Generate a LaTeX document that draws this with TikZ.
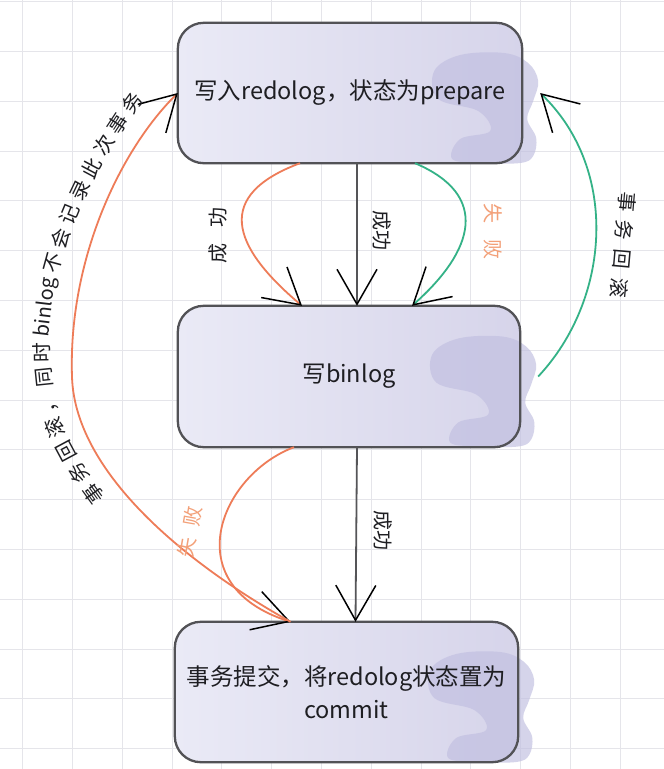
\documentclass[tikz,border=0pt]{standalone}
\usepackage{fontspec}
\setmainfont{Noto Sans CJK SC}
\usetikzlibrary{arrows.meta,decorations.text,calc}
\definecolor{gridc}{RGB}{229,229,234}
\definecolor{boxl}{RGB}{234,234,246}
\definecolor{boxr}{RGB}{214,212,234}
\definecolor{blobc}{RGB}{192,190,224}
\definecolor{borderc}{RGB}{82,82,86}
\definecolor{linec}{RGB}{85,85,88}
\definecolor{orangec}{RGB}{238,124,88}
\definecolor{greenc}{RGB}{52,178,135}
\definecolor{lorange}{RGB}{243,160,120}
\definecolor{txt}{RGB}{30,30,34}
\pgfdeclarelayer{bg}
\pgfdeclarelayer{boxes}
\pgfsetlayers{bg,boxes,main}
\tikzset{
  gridline/.style={draw=gridc, line width=1pt},
  boxtext/.style={rectangle, inner sep=0pt, text=txt, align=center,
    font=\fontsize{23.5}{33}\selectfont},
  boxfill/.style={rounded corners=26pt, left color=boxl, right color=boxr, draw=none},
  blobfill/.style={fill=blobc, fill opacity=0.65},
  boxborder/.style={draw=borderc, line width=2.3pt, rounded corners=26pt},
  arr/.style={-{Straight Barb[length=35pt,width=40pt,line width=1.5pt,color=black]}},
  gline/.style={draw=linec, line width=1.8pt},
  oline/.style={draw=orangec, line width=1.8pt},
  grline/.style={draw=greenc, line width=1.8pt},
  lbl/.style={text=txt, inner sep=0pt, font=\fontsize{20}{20}\selectfont},
}
\newcommand{\myblob}[1]{%
  \fill[blobfill, shift={(#1.east)}] plot[smooth cycle, tension=0.6] coordinates {
    (-88,-22) (-62,-38) (-18,-40) (6,-30) (16,-12) (11,8) (5,26) (14,45)
    (11,63) (-2,70) (-40,70) (-70,66) (-62,46) (-32,38) (-44,18) (-84,6)};}
\begin{document}
\begin{tikzpicture}[x=1pt,y=-1pt]
\useasboundingbox (0,0) rectangle (664,769);
\begin{pgfonlayer}{bg}
  \fill[white] (0,0) rectangle (664,769);
  \foreach \i in {0,...,13} \draw[gridline] (22.7+49.8*\i,0) -- (22.7+49.8*\i,769);
  \foreach \j in {0,...,15} \draw[gridline] (0,1.7+49.8*\j) -- (664,1.7+49.8*\j);
\end{pgfonlayer}

% nodes
\node[boxtext, minimum width=344pt, minimum height=140pt] (b1) at (350,93) {写入redolog，状态为prepare};
\node[boxtext, minimum width=342pt, minimum height=141pt] (b2) at (349,376.5) {写binlog};
\node[boxtext, minimum width=343pt, minimum height=140pt] (b3) at (346.5,692) {事务提交，将redolog状态置为\\commit};

\begin{pgfonlayer}{boxes}
  \foreach \b in {b1,b2,b3}{
    \path[boxfill] (\b.north west) rectangle (\b.south east);
    \myblob{\b}
    \path[boxborder] (\b.north west) rectangle (\b.south east);
  }
\end{pgfonlayer}

% connectors
\draw[gline, arr] ([xshift=7pt]b1.south) -- ([xshift=8pt]b2.north);
\draw[oline, arr] ([xshift=-50pt]b1.south) .. controls (215,195) and (230,245) .. ([xshift=-47pt]b2.north);
\draw[grline, arr] ([xshift=65pt]b1.south) .. controls (490,195) and (475,250) .. ([xshift=63pt]b2.north);
\draw[grline, arr] ([xshift=18pt]b2.east) .. controls (610,300) and (620,170) .. ([xshift=18pt]b1.east);
\draw[gline, arr] ([xshift=8pt]b2.south) -- ([xshift=9pt]b3.north);
\draw[oline, arr] ([xshift=-55pt]b2.south) .. controls (220,475) and (175,585) .. ([xshift=-56pt]b3.north);
\coordinate (lm) at (72,377);
\draw[oline, arr] ([xshift=-56pt]b3.north) .. controls (180,560) and (75,470) .. (lm)
  .. controls (68,260) and (120,150) .. (b1.west);

% labels
\node[lbl, rotate=90] (l1) at (218,235) {成\hspace{0.8em}功};
\node[lbl, rotate=-90] (l2) at (382,230) {成功};
\node[lbl, text=lorange, rotate=-90] (l3) at (493,231) {失\hspace{0.8em}败};
\node[lbl, rotate=-95] (l4) at (623,245) {事\hspace{0.45em}务\hspace{0.45em}回\hspace{0.45em}滚};
\node[lbl, text=lorange, rotate=80] (l5) at (190,532) {失\hspace{0.6em}败};
\node[lbl, rotate=-90] (l6) at (383,530) {成功};

\path[decorate, decoration={text along path, raise=-7pt, text align={fit to path},
  text={|\color{txt}\fontsize{20}{20}\selectfont|事务回滚，同时{binlog}不会记录此次事务}}]
  (100,502) .. controls (58,445) and (40,410) .. (43,330) .. controls (45,250) and (90,160) .. (139,95);
\end{tikzpicture}
\end{document}
